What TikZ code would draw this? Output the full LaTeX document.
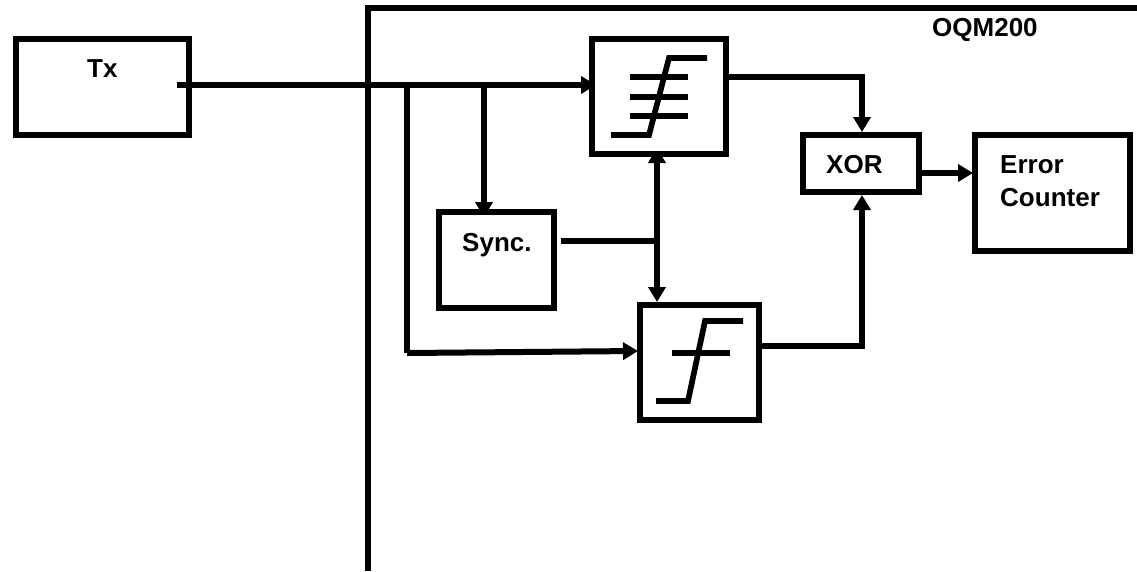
\documentclass[tikz,border=0pt]{standalone}
\usepackage{fontspec}
\setmainfont{Liberation Sans}
\usetikzlibrary{arrows.meta,calc}
\tikzset{
  blk/.style={draw=black,line width=6pt,fill=white,inner sep=0pt,outer sep=0pt,anchor=north west},
  wire/.style={draw=black,line width=6pt},
  arr/.style={wire,-{Triangle[length=15pt,width=17pt]}},
  darr/.style={wire,{Triangle[length=15pt,width=17pt]}-{Triangle[length=15pt,width=17pt]}},
  lbl/.style={font=\bfseries\fontsize{26pt}{33pt}\selectfont,inner sep=0pt,text=black,anchor=base west},
  sym/.style={draw=black,line width=5.7pt,line join=miter}
}
\begin{document}
\begin{tikzpicture}[x=1pt,y=-1pt]
\useasboundingbox (0,0) rectangle (1137,571);
% frame
\coordinate (frameB) at (368,571);
\coordinate (frameC) at (368,8);
\coordinate (frameE) at (1137,8);
\draw[wire] (frameB) -- (frameC) -- (frameE);
% connectors (under the blocks, as in the reference)
\coordinate (txout) at (177,85);
\coordinate (j1) at (407,85);
\coordinate (j2) at (484,85);
\coordinate (j3) at (407,353);
\coordinate (j4) at (657,241);
\coordinate (cmpaIn) at (596,85);
\coordinate (syncIn) at (484,217);
\coordinate (syncOut) at (561,241);
\coordinate (cmpaBot) at (657,148);
\coordinate (cmpbTop) at (657,302);
\draw[arr] (j3) -- (638,351);
\draw[wire] (j1) -- (j3);
\draw[arr] (j2) -- (syncIn);
\draw[arr] (txout) -- (cmpaIn);
\draw[darr] (cmpaBot) -- (cmpbTop);
% blocks
\node[blk,minimum width=173pt,minimum height=96pt] (tx) at (16,39) {};
\node[blk,minimum width=134pt,minimum height=115pt] (cmpa) at (592,39) {};
\node[blk,minimum width=119pt,minimum height=115pt] (cmpb) at (640,305) {};
\node[blk,minimum width=115pt,minimum height=96pt] (sync) at (439,212) {};
\node[blk,minimum width=116pt,minimum height=57pt] (xor) at (803,135) {};
\node[blk,minimum width=155pt,minimum height=116pt] (err) at (975,135) {};
% Tx output stub sits over its block
\draw[wire] (txout) -- (tx.east |- txout);
% labels
\node[lbl] (txl) at (87,77) {Tx};
\node[lbl] (oqm) at (932,36) {OQM200};
\node[lbl] (syncl) at (462,251) {Sync.};
\node[lbl] (xorl) at (826,173) {XOR};
\node[lbl] (errl) at (1000,173) {Error};
\node[lbl] (cntl) at (1000,206) {Counter};
% threshold symbols
\draw[sym] (611,135) -- (649,135) -- (669,58) -- (707,58);
\foreach \yy in {77,97,116} \draw[sym] (630,\yy) -- (688,\yy);
\draw[sym] (656,401) -- (688,401) -- (705,321) -- (743,321);
\draw[sym] (672,353) -- (730,353);
% remaining connectors
\draw[wire] (syncOut) -- (j4);
\draw[arr] (cmpa.east |- 0,77) -| (862,132);
\draw[arr] (cmpb.east |- 0,346) -| (862,195);
\draw[arr,shorten >=2pt] (xor.east |- 0,173) -- (err.west |- 0,173);
\end{tikzpicture}
\end{document}
